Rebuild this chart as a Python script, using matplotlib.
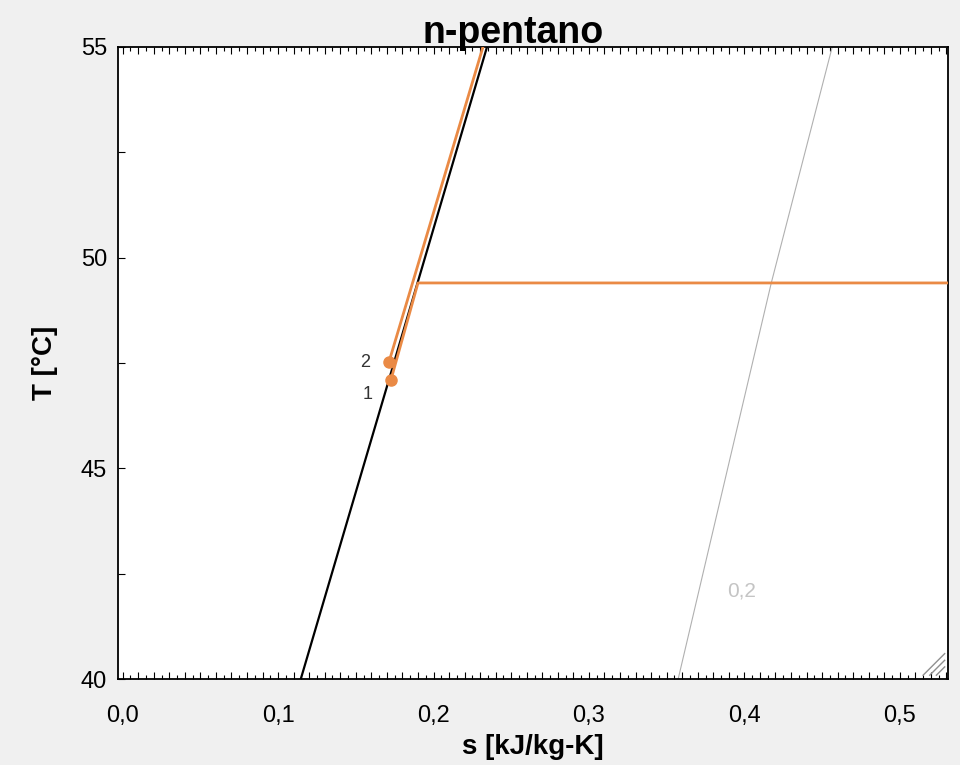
import matplotlib
matplotlib.use("Agg")
import matplotlib.pyplot as plt
from matplotlib.ticker import MultipleLocator, FuncFormatter

# ---- data ----
sat_T = [40.0, 45.0, 50.0, 55.0]
sat_s = [0.1146, 0.1545, 0.1945, 0.2344]

q02_T = [40.0, 49.4, 55.0]
q02_s = [0.3574, 0.4173, 0.4565]

proc_a_s = [0.1726, 0.1900, 0.56]
proc_a_T = [47.1, 49.4, 49.4]

proc_b_s = [0.1713, 0.2318]
proc_b_T = [47.52, 55.0]

state_labels = ["1", "2"]
state_s = [0.1726, 0.1713]
state_T = [47.1, 47.52]

x_ticks = [0.0, 0.1, 0.2, 0.3, 0.4, 0.5]
y_ticks = [40, 45, 50, 55]

plt.rcParams['font.family'] = ['Liberation Sans', 'DejaVu Sans']
bg = '#f0f0f0'
fig = plt.figure(figsize=(9.6, 7.65), dpi=100, facecolor=bg)
ax = fig.add_axes([118/960, 1-679/765, (948-118)/960, (679-47)/765])
ax.set_facecolor('white')

orange = '#ea8a45'
ax.plot(q02_s, q02_T, color='#b0b0b0', lw=0.8, zorder=2)
ax.text(0.398, 42.09, "0,2", color='#c4c4c4', fontsize=15, ha='center', va='center')
ax.plot(sat_s, sat_T, color='black', lw=1.6, zorder=3)
ax.plot(proc_a_s, proc_a_T, color=orange, lw=2.0, zorder=4)
ax.plot(proc_b_s, proc_b_T, color=orange, lw=2.0, zorder=4)
ax.plot(state_s, state_T, 'o', color=orange, ms=8, zorder=5)
for lab, s, T in zip(state_labels, state_s, state_T):
    ax.text(s - 0.015, T - 0.35 if lab == "1" else T, lab, fontsize=13, color='#333333',
            ha='center', va='center')

ax.set_xlim(-0.003, 0.531)
ax.set_ylim(40, 55)

# ticks
ax.xaxis.set_major_locator(MultipleLocator(0.01))
ax.xaxis.set_minor_locator(MultipleLocator(0.005))
ax.xaxis.set_major_formatter(FuncFormatter(
    lambda v, p: (f"{v:.1f}".replace('.', ',') if abs(v*10 - round(v*10)) < 1e-6 and v >= 0 else "")))
ax.yaxis.set_major_locator(MultipleLocator(2.5))
ax.yaxis.set_major_formatter(FuncFormatter(
    lambda v, p: (f"{int(round(v))}" if abs(v - round(v/5)*5) < 1e-6 else "")))
ax.tick_params(axis='x', which='major', direction='in', length=5, width=0.8, top=True,
               labelsize=17, pad=19)
ax.tick_params(axis='x', which='minor', direction='in', length=3, width=0.8, top=True)
ax.tick_params(axis='y', which='major', direction='in', length=5, width=0.8, right=False,
               labelsize=17, pad=8)
for sp in ax.spines.values():
    sp.set_linewidth(1.3)

ax.set_xlabel("s [kJ/kg-K]", fontsize=20, fontweight='bold', labelpad=5)
ax.set_ylabel("T [°C]", fontsize=20, fontweight='bold', labelpad=16)
fig.text(513/960, 1-33/765, "n-pentano", fontsize=27, fontweight='bold', ha='center', va='center',
         zorder=10)

# resize grip marks
for k in range(3):
    d = 0.010 + k * 0.008
    ax.plot([0.996, 0.996 - d], [0.006 + d * 830 / 632, 0.006], transform=ax.transAxes,
            color='#909090', lw=1.0, clip_on=False)

fig.savefig("out.png", dpi=100, facecolor=bg)
